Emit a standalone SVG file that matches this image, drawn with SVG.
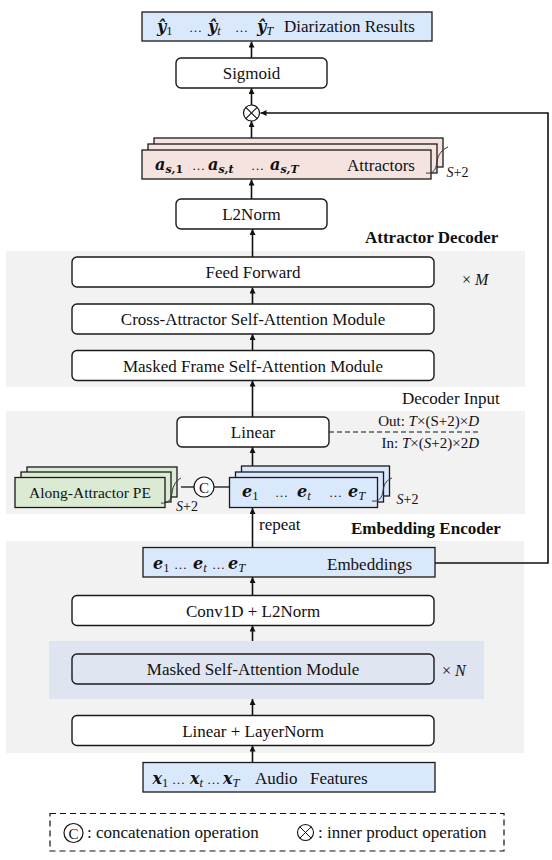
<svg xmlns="http://www.w3.org/2000/svg" width="552" height="860" viewBox="0 0 552 860">
<defs>
<marker id="ah" viewBox="0 0 10 10" refX="10" refY="5" markerWidth="6" markerHeight="6" markerUnits="userSpaceOnUse" orient="auto">
<path d="M0,0 L10,5 L0,10 Z" fill="#111"/>
</marker>
<style>
text{font-family:"Liberation Serif","Times New Roman",serif;fill:#111;}
.t{font-size:17px;}
.c{text-anchor:middle;}
.b{font-weight:bold;}
.m{font-family:"DejaVu Serif",serif;font-weight:bold;font-style:italic;font-size:16px;}
.s{font-family:"Liberation Serif",serif;font-size:12.5px;font-weight:normal;}
.sb{font-family:"DejaVu Serif",serif;font-size:11px;font-weight:bold;font-style:italic;}
.i{font-style:italic;}
.u{font-style:normal;}
.d{font-size:13px;}
.rb{fill:#fff;stroke:#1a1a1a;stroke-width:1.4;}
.bx{stroke:#1a1a1a;stroke-width:1.3;}
.blue{fill:#dae8fc;}
.pink{fill:#f5e3e0;}
.green{fill:#dbead3;}
.reg{fill:#f2f2f2;}
.ln{stroke:#111;stroke-width:1.3;fill:none;}
.arr{stroke:#111;stroke-width:1.6;fill:none;marker-end:url(#ah);}
.sq{stroke:#333;stroke-width:1;fill:none;}
</style>
</defs>

<g id="regions">
<rect class="reg" x="6" y="251" width="519" height="136"/>
<rect class="reg" x="6" y="411" width="519" height="103"/>
<rect class="reg" x="6" y="541" width="518" height="212"/>
<rect x="49" y="641" width="435" height="58" fill="#dee4f0"/>
<text class="t b" x="365" y="243">Attractor Decoder</text>
<text class="t" x="402" y="404">Decoder Input</text>
<text class="t b" x="351" y="534">Embedding Encoder</text>
<text x="462" y="285" font-size="16">× <tspan class="i">M</tspan></text>
<text x="442" y="676" font-size="16">× <tspan class="i">N</tspan></text>
</g>

<g id="connectors">
<line class="arr" x1="251.5" y1="58" x2="251.5" y2="41.5"/>
<line class="arr" x1="251.5" y1="105" x2="251.5" y2="88"/>
<line class="arr" x1="251.5" y1="138" x2="251.5" y2="121"/>
<line class="arr" x1="251.5" y1="199" x2="251.5" y2="179.5"/>
<line class="arr" x1="252.5" y1="257" x2="252.5" y2="229"/>
<line class="arr" x1="252.5" y1="304" x2="252.5" y2="287.5"/>
<line class="arr" x1="252.5" y1="350.5" x2="252.5" y2="334"/>
<line class="arr" x1="252.5" y1="417" x2="252.5" y2="380.5"/>
<line class="arr" x1="252.5" y1="466" x2="252.5" y2="447"/>
<line class="arr" x1="252.5" y1="547.5" x2="252.5" y2="508"/>
<line class="arr" x1="252.5" y1="595.5" x2="252.5" y2="577"/>
<line class="arr" x1="252.5" y1="641" x2="252.5" y2="625.5"/>
<line class="arr" x1="252.5" y1="715.5" x2="252.5" y2="699"/>
<line class="arr" x1="252.5" y1="762.5" x2="252.5" y2="745.5"/>
<path class="arr" d="M435,563 H548 V113 H260.5" stroke-width="1.8"/>
<line x1="329" y1="432" x2="479" y2="432" stroke="#111" stroke-width="1.2" stroke-dasharray="5,3"/>
<line class="ln" x1="181" y1="487" x2="194" y2="487"/>
<line class="ln" x1="214" y1="487" x2="229.5" y2="487"/>
<text class="t" x="259" y="530">repeat</text>
<text x="479" y="426" font-size="15" text-anchor="end">Out: <tspan class="i">T</tspan>×(S+2)×<tspan class="i">D</tspan></text>
<text x="479" y="448" font-size="15" text-anchor="end">In: <tspan class="i">T</tspan>×(<tspan class="i">S</tspan>+2)×2<tspan class="i">D</tspan></text>
</g>

<g id="output">
<rect class="bx blue" x="142" y="12" width="290" height="29"/>
<text class="m" x="157" y="32">ŷ<tspan class="s u" dy="3">1</tspan></text>
<text class="d" x="189" y="32">…</text>
<text class="m" x="208" y="32">ŷ<tspan class="s i" dy="3">t</tspan></text>
<text class="d" x="235" y="32">…</text>
<text class="m" x="257" y="32">ŷ<tspan class="s i" dy="3">T</tspan></text>
<text class="t" x="284" y="32">Diarization Results</text>
</g>

<g id="sigmoid">
<rect class="rb" x="176" y="58" width="151" height="30" rx="5"/>
<text class="t c" x="251.5" y="79">Sigmoid</text>
</g>

<g id="inner-product">
<circle cx="251.5" cy="113" r="8" fill="#fff" stroke="#111" stroke-width="1.2"/>
<path d="M245.8,107.3 L257.2,118.7 M257.2,107.3 L245.8,118.7" stroke="#111" stroke-width="1.1"/>
</g>

<g id="attractors">
<rect class="bx pink" x="154" y="138" width="289" height="29"/>
<rect class="bx pink" x="148" y="144" width="289" height="29"/>
<rect class="bx pink" x="142" y="150" width="289" height="29"/>
<text class="m" x="155" y="170">a<tspan class="sb" dy="3">s,</tspan><tspan class="sb u">1</tspan></text>
<text class="d" x="192" y="170">…</text>
<text class="m" x="208" y="170">a<tspan class="sb" dy="3">s,t</tspan></text>
<text class="d" x="251" y="170">…</text>
<text class="m" x="270" y="170">a<tspan class="sb" dy="3">s,T</tspan></text>
<text class="t" x="347" y="171">Attractors</text>
<path class="sq" d="M426,173 C433,174 436,170 437,162 C438,154 442,150 448,147"/>
<text x="446.5" y="177" font-size="14"><tspan class="i">S</tspan>+2</text>
</g>

<g id="l2norm">
<rect class="rb" x="176" y="199" width="151" height="30" rx="5"/>
<text class="t c" x="251.5" y="220">L2Norm</text>
</g>

<g id="feed-forward">
<rect class="rb" x="72" y="257" width="362" height="30" rx="5"/>
<text class="t c" x="253" y="278">Feed Forward</text>
</g>

<g id="cross-attractor">
<rect class="rb" x="72" y="304" width="362" height="30" rx="5"/>
<text class="t c" x="253" y="325">Cross-Attractor Self-Attention Module</text>
</g>

<g id="masked-frame">
<rect class="rb" x="72" y="350.5" width="362" height="30" rx="5"/>
<text class="t c" x="253" y="371.5">Masked Frame Self-Attention Module</text>
</g>

<g id="linear">
<rect class="rb" x="177" y="417" width="152" height="30" rx="5"/>
<text class="t c" x="253" y="438">Linear</text>
</g>

<g id="pe">
<rect class="bx green" x="27" y="467" width="150" height="30"/>
<rect class="bx green" x="21" y="472" width="150" height="30"/>
<rect class="bx green" x="15" y="477.5" width="150" height="30"/>
<text class="c" x="90" y="498" font-size="15.5">Along-Attractor PE</text>
<path class="sq" d="M161,503 C168,504 171,500 172,493 C173,485 176,481 181,478"/>
<text x="176" y="511" font-size="14"><tspan class="i">S</tspan>+2</text>
</g>

<g id="concat">
<circle cx="204" cy="487" r="10" fill="#fff" stroke="#111" stroke-width="1.2"/>
<text class="c" x="204" y="492.5" font-size="15">C</text>
</g>

<g id="emb-stack">
<rect class="bx blue" x="241.5" y="466" width="148" height="30"/>
<rect class="bx blue" x="235.5" y="472" width="148" height="30"/>
<rect class="bx blue" x="229.5" y="477.5" width="148" height="30"/>
<text class="m" x="242" y="497">e<tspan class="s u" dy="3">1</tspan></text>
<text class="d" x="275" y="497">…</text>
<text class="m" x="297" y="497">e<tspan class="s i" dy="3">t</tspan></text>
<text class="d" x="329" y="497">…</text>
<text class="m" x="348" y="497">e<tspan class="s i" dy="3">T</tspan></text>
<path class="sq" d="M372,501 C379,502 382,498 383,491 C384,483 387,480 392,478"/>
<text x="396.5" y="504" font-size="14"><tspan class="i">S</tspan>+2</text>
</g>

<g id="embeddings">
<rect class="bx blue" x="143" y="547.5" width="292" height="29.5"/>
<text class="m" x="153" y="569">e<tspan class="s u" dy="3">1</tspan></text>
<text class="d" x="174" y="569">…</text>
<text class="m" x="193" y="569">e<tspan class="s i" dy="3">t</tspan></text>
<text class="d" x="212" y="569">…</text>
<text class="m" x="228" y="569">e<tspan class="s i" dy="3">T</tspan></text>
<text class="t" x="327" y="570">Embeddings</text>
</g>

<g id="conv1d">
<rect class="rb" x="72" y="595.5" width="362" height="30" rx="5"/>
<text class="t c" x="253" y="616.5">Conv1D + L2Norm</text>
</g>

<g id="masked-sa">
<rect class="rb" x="72" y="654" width="362" height="30" rx="5" style="fill:#dfe5f1"/>
<text class="t c" x="253" y="675">Masked Self-Attention Module</text>
</g>

<g id="linear-ln">
<rect class="rb" x="72" y="715.5" width="362" height="30" rx="5"/>
<text class="t c" x="253" y="737">Linear + LayerNorm</text>
</g>

<g id="audio">
<rect class="bx blue" x="143" y="762.5" width="292" height="29.5"/>
<text class="m" x="152.5" y="784">x<tspan class="s u" dy="3">1</tspan></text>
<text class="d" x="172" y="784">…</text>
<text class="m" x="190" y="784">x<tspan class="s i" dy="3">t</tspan></text>
<text class="d" x="207" y="784">…</text>
<text class="m" x="223" y="784">x<tspan class="s i" dy="3">T</tspan></text>
<text class="t" x="255" y="784">Audio</text>
<text class="t" x="310" y="784">Features</text>
</g>

<g id="legend">
<rect x="50" y="813.5" width="454" height="37.5" fill="none" stroke="#111" stroke-width="1.2" stroke-dasharray="6,4"/>
<circle cx="73.5" cy="833" r="9.5" fill="none" stroke="#111" stroke-width="1.2"/>
<text class="c" x="73.5" y="838.5" font-size="15">C</text>
<text class="t" x="87" y="838">: concatenation operation</text>
<circle cx="305.5" cy="832.5" r="8" fill="none" stroke="#111" stroke-width="1.1"/>
<path d="M299.8,826.8 L311.2,838.2 M311.2,826.8 L299.8,838.2" stroke="#111" stroke-width="1"/>
<text class="t" x="318" y="838">: inner product operation</text>
</g>
</svg>
